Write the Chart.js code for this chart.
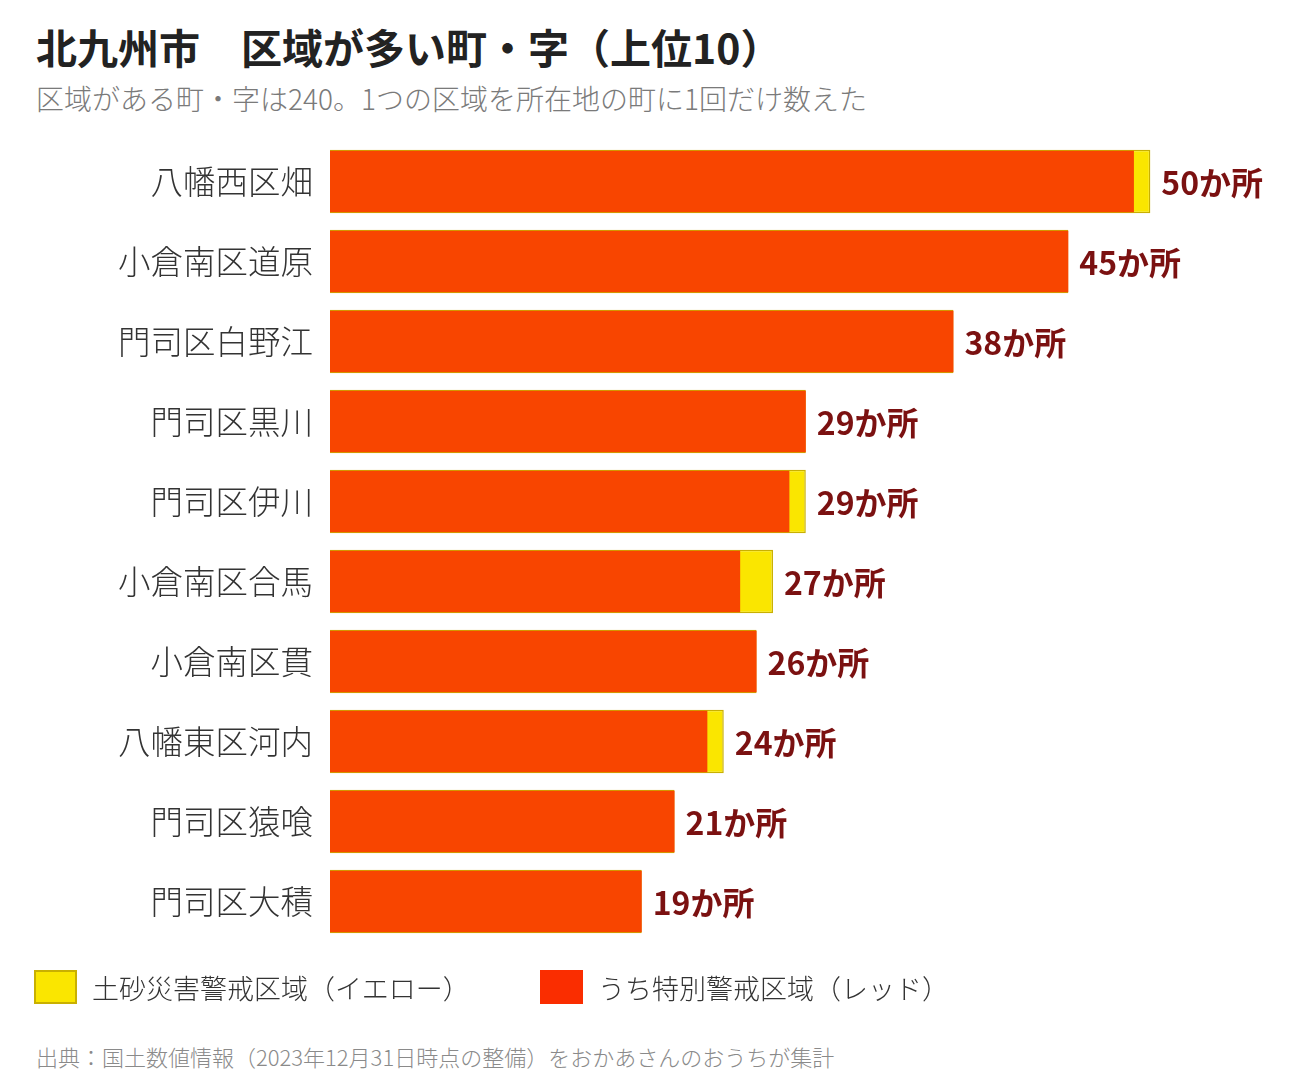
<!DOCTYPE html>
<html>
<head>
<meta charset="utf-8">
<script src="https://cdn.jsdelivr.net/npm/chart.js@4"></script>
<style>
  body { margin: 0; background: #fff; font-family: "Noto Sans CJK JP", "Noto Sans", sans-serif; }
  #page { position: relative; width: 1300px; height: 1090px; overflow: hidden; }
  .title { position: absolute; left: 36px; top: 16px; font-size: 41px; font-weight: bold; color: #222; white-space: nowrap; }
  .sub { position: absolute; left: 36px; top: 78px; font-size: 28px; font-weight: 300; color: #7a7a7a; white-space: nowrap; }
  #wrap { position: absolute; left: 0; top: 105px; width: 1300px; height: 873px; }
  .leg { position: absolute; top: 970px; height: 34px; display: flex; align-items: center; font-size: 27px; font-weight: 300; color: #333; white-space: nowrap; }
  .sw { width: 43px; height: 34px; margin-right: 15px; box-sizing: border-box; }
  .src { position: absolute; left: 36px; top: 1040px; font-size: 22px; font-weight: 300; color: #8a8a8a; white-space: nowrap; }
</style>
</head>
<body>
<div id="page">
  <div class="title">北九州市　区域が多い町・字（上位10）</div>
  <div class="sub">区域がある町・字は240。1つの区域を所在地の町に1回だけ数えた</div>
  <div id="wrap"><canvas id="c"></canvas></div>
  <div class="leg" style="left:34px"><div class="sw" style="background:#fae600;border:2px solid #c9b000"></div>土砂災害警戒区域（イエロー）</div>
  <div class="leg" style="left:540px"><div class="sw" style="background:#fa2d00"></div>うち特別警戒区域（レッド）</div>
  <div class="src">出典：国土数値情報（2023年12月31日時点の整備）をおかあさんのおうちが集計</div>
</div>
<script>
// 町・字
const towns = ['八幡西区畑', '小倉南区道原', '門司区白野江', '門司区黒川', '門司区伊川',
               '小倉南区合馬', '小倉南区貫', '八幡東区河内', '門司区猿喰', '門司区大積'];
// イエロー（全体）
const yellowCounts = [50, 45, 38, 29, 29, 27, 26, 24, 21, 19];
// うちレッド
const redCounts = [49, 45, 38, 29, 28, 25, 26, 23, 21, 19];

// 棒の右に「○か所」
const valueLabels = {
  id: 'valueLabels',
  afterDatasetsDraw(chart) {
    const ctx = chart.ctx;
    const meta = chart.getDatasetMeta(1);
    ctx.save();
    ctx.font = 'bold 32px "Noto Sans CJK JP"';
    ctx.fillStyle = '#7b1111';
    ctx.textAlign = 'left';
    ctx.textBaseline = 'middle';
    meta.data.forEach((bar, i) => {
      ctx.fillText(yellowCounts[i] + 'か所', bar.x + 11, bar.y + 1);
    });
    ctx.restore();
  }
};

new Chart(document.getElementById('c'), {
  type: 'bar',
  data: {
    labels: towns,
    datasets: [
      {
        label: 'うち特別警戒区域（レッド）',
        data: redCounts,
        backgroundColor: '#f84500',
        borderWidth: 0,
        grouped: false,
        order: 0,
        categoryPercentage: 1,
        barPercentage: 0.77
      },
      {
        label: '土砂災害警戒区域（イエロー）',
        data: yellowCounts,
        backgroundColor: '#fae600',
        borderColor: '#c9b000',
        borderWidth: 1.5,
        grouped: false,
        order: 1,
        categoryPercentage: 1,
        barPercentage: 0.795
      }
    ]
  },
  options: {
    indexAxis: 'y',
    responsive: true,
    maintainAspectRatio: false,
    animation: false,
    layout: { autoPadding: false, padding: { left: 0, right: 2, top: 0, bottom: 0 } },
    plugins: { legend: { display: false }, tooltip: { enabled: false } },
    scales: {
      x: {
        min: 0,
        max: 59,
        display: false
      },
      y: {
        grid: { display: false, drawTicks: false },
        border: { display: false },
        ticks: {
          padding: 17,
          color: '#333',
          font: { family: '"Noto Sans CJK JP"', size: 32.5, weight: '300' }
        },
        afterFit(scale) { scale.width = 330; }
      }
    }
  },
  plugins: [valueLabels]
});
</script>
</body>
</html>
